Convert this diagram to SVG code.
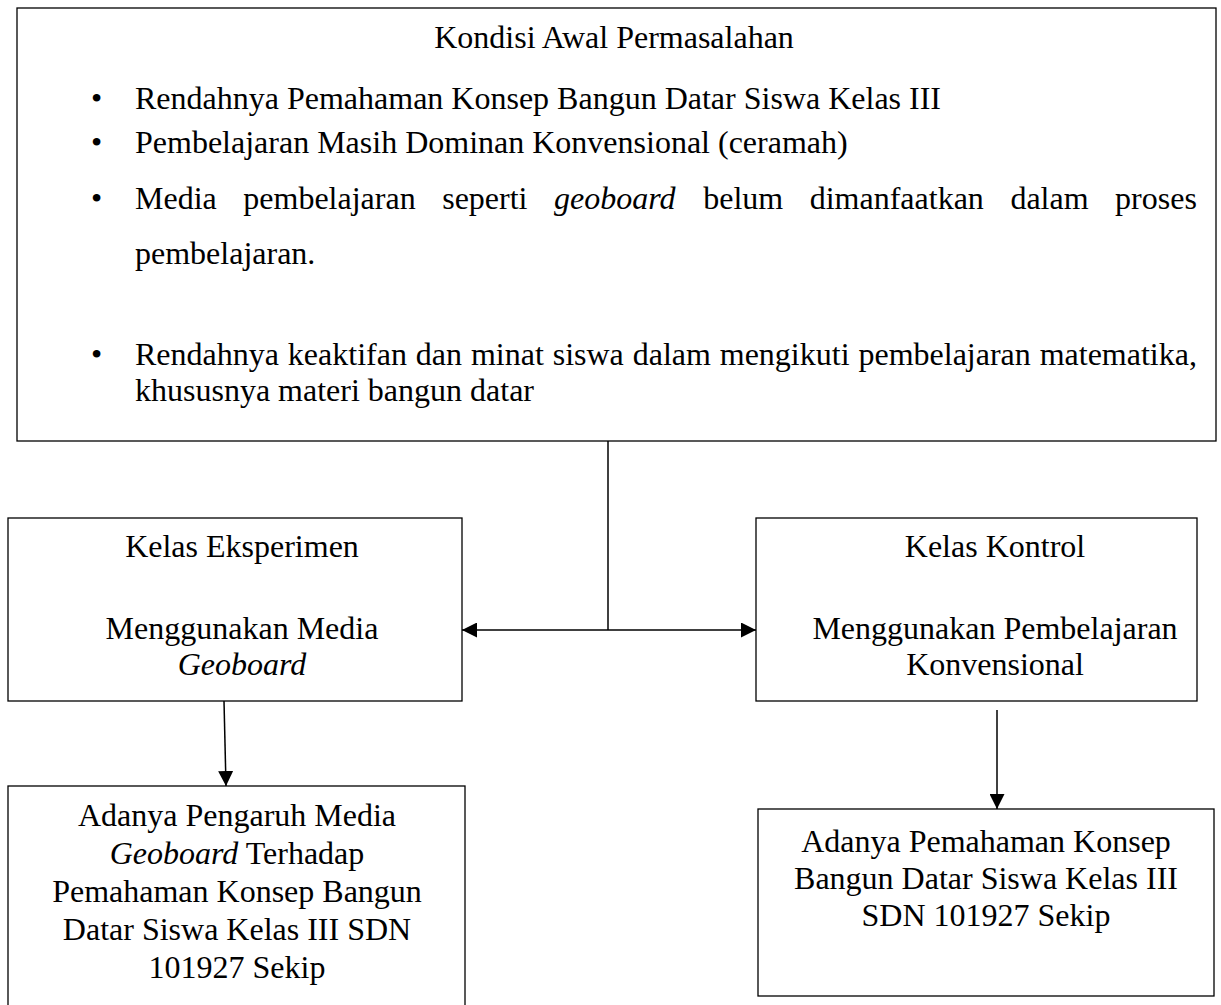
<svg xmlns="http://www.w3.org/2000/svg" width="1221" height="1005" viewBox="0 0 1221 1005">
<defs>
<style>
.box{fill:#fff;stroke:#000;stroke-width:1.3}
.t{font-family:"Liberation Serif","Times New Roman",serif;font-size:32px;fill:#000}
.c{text-anchor:middle}
.i{font-style:italic}
.ln{stroke:#000;stroke-width:1.5;fill:none}
</style>
<marker id="ah" viewBox="0 0 10 10" refX="10" refY="5" markerUnits="userSpaceOnUse" markerWidth="15" markerHeight="15" orient="auto">
<path d="M0,0 L10,5 L0,10 z" fill="#000"/>
</marker>
</defs>
<rect width="1221" height="1005" fill="#fff"/>
<g id="kondisi">
<rect class="box" x="17" y="8" width="1199" height="433"/>
<text class="t c" x="614" y="48">Kondisi Awal Permasalahan</text>
<text class="t" x="91" y="109">•</text>
<text class="t" x="135" y="109">Rendahnya Pemahaman Konsep Bangun Datar Siswa Kelas III</text>
<text class="t" x="91" y="153">•</text>
<text class="t" x="135" y="153">Pembelajaran Masih Dominan Konvensional (ceramah)</text>
<text class="t" x="91" y="209">•</text>
<text class="t" y="209"><tspan x="135">Media</tspan><tspan x="243.3">pembelajaran</tspan><tspan x="442.2">seperti</tspan><tspan x="554" class="i">geoboard</tspan><tspan x="703.2">belum</tspan><tspan x="809.7">dimanfaatkan</tspan><tspan x="1010.4">dalam</tspan><tspan x="1115.1">proses</tspan></text>
<text class="t" x="135" y="264">pembelajaran.</text>
<text class="t" x="91" y="365">•</text>
<text class="t" x="135" y="365" word-spacing="0.9">Rendahnya keaktifan dan minat siswa dalam mengikuti pembelajaran matematika,</text>
<text class="t" x="135" y="401">khususnya materi bangun datar</text>
</g>
<g id="eksperimen">
<rect class="box" x="8" y="518" width="454" height="183"/>
<text class="t c" x="242" y="557">Kelas Eksperimen</text>
<text class="t c" x="242" y="639">Menggunakan Media</text>
<text class="t c i" x="242" y="675">Geoboard</text>
</g>
<g id="kontrol">
<rect class="box" x="756" y="518" width="441" height="183"/>
<text class="t c" x="995" y="557">Kelas Kontrol</text>
<text class="t c" x="995" y="639">Menggunakan Pembelajaran</text>
<text class="t c" x="995" y="675">Konvensional</text>
</g>
<g id="hasil-eksperimen">
<rect class="box" x="8" y="786" width="457" height="230"/>
<text class="t c" x="237" y="826">Adanya Pengaruh Media</text>
<text class="t c" x="237" y="864"><tspan class="i">Geoboard</tspan> Terhadap</text>
<text class="t c" x="237" y="902">Pemahaman Konsep Bangun</text>
<text class="t c" x="237" y="940">Datar Siswa Kelas III SDN</text>
<text class="t c" x="237" y="978">101927 Sekip</text>
</g>
<g id="hasil-kontrol">
<rect class="box" x="758" y="809" width="456" height="187"/>
<text class="t c" x="986" y="852">Adanya Pemahaman Konsep</text>
<text class="t c" x="986" y="889">Bangun Datar Siswa Kelas III</text>
<text class="t c" x="986" y="926">SDN 101927 Sekip</text>
</g>
<g id="connectors">
<path class="ln" d="M608,441 L608,630"/>
<path class="ln" d="M608,630 L462,630" marker-end="url(#ah)"/>
<path class="ln" d="M608,630 L756,630" marker-end="url(#ah)"/>
<path class="ln" d="M224,701 L226,786" marker-end="url(#ah)"/>
<path class="ln" d="M997,710 L997,809" marker-end="url(#ah)"/>
</g>
</svg>
